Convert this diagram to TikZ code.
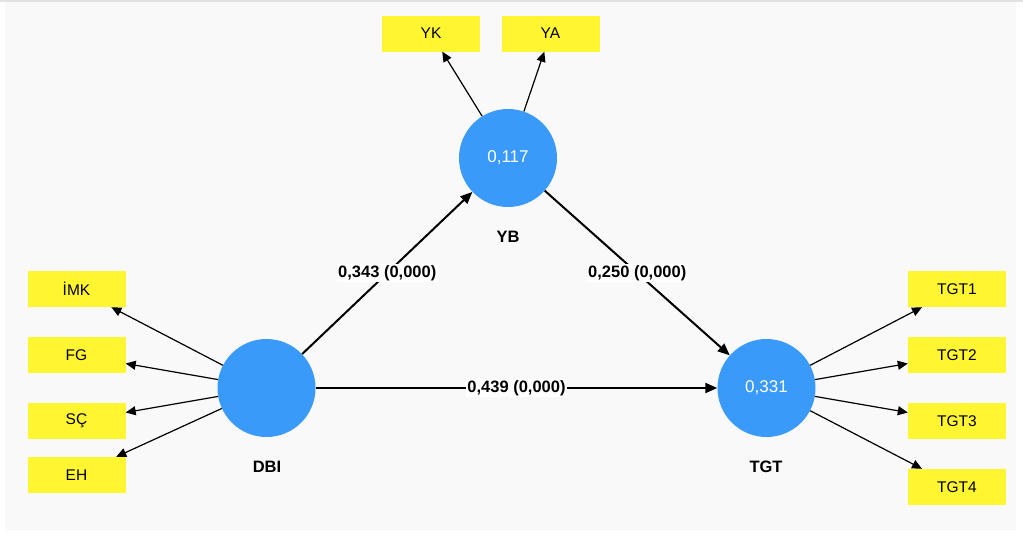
\documentclass[tikz,border=0pt]{standalone}
\usepackage{fontspec}
\setmainfont{Liberation Sans}
\usetikzlibrary{arrows.meta}
\definecolor{panelgray}{HTML}{F9F9F9}
\definecolor{edgegray}{HTML}{E2E2E2}
\definecolor{lvblue}{HTML}{3A9AFA}
\definecolor{mvyellow}{HTML}{FFF530}
\begin{document}
\begin{tikzpicture}[x=1pt,y=-1pt,
  lv/.style={circle,fill=lvblue,minimum size=98pt,inner sep=0pt,text=white,font=\fontsize{17}{19}\selectfont},
  mv/.style={rectangle,fill=mvyellow,minimum width=98pt,minimum height=36pt,inner sep=0pt,font=\fontsize{15.5}{17}\selectfont},
  lvname/.style={font=\bfseries\fontsize{16.5}{18}\selectfont},
  outer/.style={-{Triangle[length=10pt,width=9pt]},line width=1.2pt},
  path/.style={-{Triangle[length=12pt,width=10pt]},line width=2pt},
  coef/.style={fill=white,inner sep=1.5pt,font=\bfseries\fontsize{16.5}{18}\selectfont}]
% Draw background
\useasboundingbox (0,0) rectangle (1023,533);
\fill[white] (0,0) rectangle (1023,533);
\fill[panelgray] (5,2) rectangle (1016,531);
\fill[edgegray] (0,0) rectangle (1023,2);

% Draw latent variables
\node[lv] (yb) at (508,158) {0,117};
\node[lv] (dbi) at (266.5,388) {};
\node[lv] (tgt) at (766.5,388) {0,331};
\node[lvname] (ybname) at (508,237) {YB};
\node[lvname] (dbiname) at (267,467) {DBI};
\node[lvname] (tgtname) at (766,467) {TGT};

% Draw indicators
\node[mv] (yk) at (431,33.5) {YK};
\node[mv] (ya) at (550.5,33.5) {YA};
\node[mv] (imk) at (76.5,289) {İMK};
\node[mv] (fg) at (76.5,355) {FG};
\node[mv] (sc) at (76.5,421) {SÇ};
\node[mv] (eh) at (76.5,475) {EH};
\node[mv] (tgt1) at (957,289) {TGT1};
\node[mv] (tgt2) at (957,355) {TGT2};
\node[mv] (tgt3) at (957,421) {TGT3};
\node[mv] (tgt4) at (957,487) {TGT4};

% Draw outer loadings
\draw[outer] (yb) -- (yk);
\draw[outer] (yb) -- (ya);
\draw[outer] (dbi) -- (imk);
\draw[outer] (dbi) -- (fg);
\draw[outer] (dbi) -- (sc);
\draw[outer] (dbi) -- (eh);
\draw[outer] (tgt) -- (tgt1);
\draw[outer] (tgt) -- (tgt2);
\draw[outer] (tgt) -- (tgt3);
\draw[outer] (tgt) -- (tgt4);

% Draw paths
\draw[path] (dbi) -- node[coef] {0,343 (0,000)} (yb);
\draw[path] (yb) -- node[coef] {0,250 (0,000)} (tgt);
\draw[path] (dbi) -- node[coef] {0,439 (0,000)} (tgt);
\end{tikzpicture}
\end{document}
